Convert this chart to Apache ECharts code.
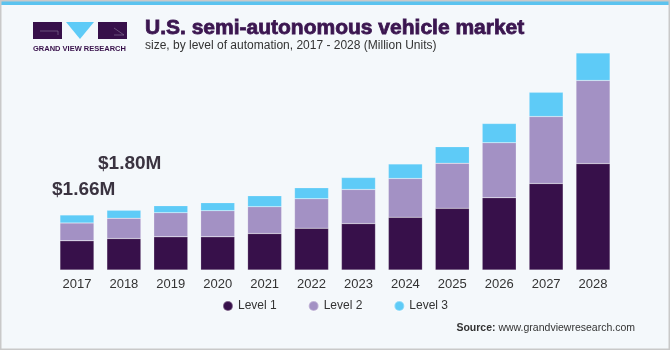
<!DOCTYPE html>
<html>
<head>
<meta charset="utf-8">
<script src="https://cdn.jsdelivr.net/npm/echarts@6/dist/echarts.min.js"></script>
<style>
  html, body { margin: 0; padding: 0; background: #f4f8fb; }
  #chart { width: 670px; height: 350px; }
</style>
</head>
<body>
<div id="chart"></div>
<script>
const years = ['2017', '2018', '2019', '2020', '2021', '2022', '2023', '2024', '2025', '2026', '2027', '2028'];
const level1 = [0.88, 0.95, 1.00, 1.00, 1.10, 1.26, 1.40, 1.59, 1.86, 2.18, 2.61, 3.21];
const level2 = [0.54, 0.61, 0.73, 0.79, 0.81, 0.89, 1.03, 1.17, 1.36, 1.66, 2.02, 2.51];
const level3 = [0.24, 0.24, 0.21, 0.24, 0.33, 0.33, 0.36, 0.44, 0.50, 0.58, 0.73, 0.83];
const callouts = ['$1.66M', '$1.80M'];

const purple = '#37104a';
const lavender = '#a391c4';
const sky = '#5ecbf7';

const chart = echarts.init(document.getElementById('chart'));

function barSeries(name, data, color) {
    return {
        name: name,
        type: 'bar',
        stack: 'total',
        data: data,
        barWidth: 34,
        itemStyle: { color: color, borderColor: 'rgba(255,255,255,0.35)', borderWidth: 0.5 }
    };
}

const option = {
    animation: false,
    backgroundColor: '#f4f8fb',
    textStyle: { fontFamily: 'Liberation Sans, Arial, sans-serif' },
    grid: { left: 53.5, right: 53.5, top: 38, bottom: 80 },
    legend: {
        top: 295,
        left: 'center',
        icon: 'circle',
        itemWidth: 10,
        itemHeight: 10,
        itemGap: 31,
        textStyle: { color: '#333', fontSize: 12 },
        data: ['Level 1', 'Level 2', 'Level 3']
    },
    xAxis: {
        type: 'category',
        data: years,
        axisLine: { show: false },
        axisTick: { show: false },
        axisLabel: { color: '#333', fontSize: 13, margin: 8 }
    },
    yAxis: {
        type: 'value',
        min: 0,
        max: 7,
        show: false,
        splitLine: { show: false }
    },
    series: [
        barSeries('Level 1', level1, purple),
        barSeries('Level 2', level2, lavender),
        barSeries('Level 3', level3, sky)
    ],
    graphic: [
        // frame: top strip and border
        { type: 'rect', shape: { x: 0, y: 0, width: 670, height: 5 }, style: { fill: '#5bc3ef' } },
        { type: 'rect', shape: { x: 0.75, y: 0.75, width: 668.5, height: 348.5 }, style: { fill: 'none', stroke: '#c9c9c9', lineWidth: 1.5 } },
        // logo
        { type: 'rect', shape: { x: 33, y: 22, width: 29, height: 17 }, style: { fill: purple } },
        { type: 'polyline', shape: { points: [[40, 31], [58, 31], [58, 35]] }, style: { stroke: '#8a7a9a', lineWidth: 0.6, fill: 'none' } },
        { type: 'polygon', shape: { points: [[66, 22], [94, 22], [80, 39]] }, style: { fill: sky } },
        { type: 'rect', shape: { x: 98, y: 22, width: 29, height: 17 }, style: { fill: purple } },
        { type: 'polyline', shape: { points: [[114, 28], [124, 35], [114, 35]] }, style: { stroke: '#8a7a9a', lineWidth: 0.6, fill: 'none' } },
        {
            type: 'text', x: 33, y: 45,
            style: { text: 'GRAND VIEW RESEARCH', fill: purple, font: 'bold 7.5px Liberation Sans, Arial, sans-serif' }
        },
        // titles
        {
            type: 'text', x: 145, y: 18,
            style: {
                text: 'U.S. semi-autonomous vehicle market', fill: '#3b1650',
                stroke: '#3b1650', lineWidth: 0.8,
                font: 'bold 21px Liberation Sans, Arial, sans-serif'
            }
        },
        {
            type: 'text', x: 145, y: 40,
            style: { text: 'size, by level of automation, 2017 - 2028 (Million Units)', fill: '#333', font: '12px Liberation Sans, Arial, sans-serif' }
        },
        // callouts
        {
            type: 'text', x: 52, y: 180,
            style: { text: callouts[0], fill: '#3a3340', font: 'bold 19px Liberation Sans, Arial, sans-serif' }
        },
        {
            type: 'text', x: 98, y: 154,
            style: { text: callouts[1], fill: '#3a3340', font: 'bold 19px Liberation Sans, Arial, sans-serif' }
        },
        // source
        {
            type: 'text', x: 635, y: 323,
            style: {
                text: '{b|Source:} www.grandviewresearch.com',
                align: 'right',
                fill: '#333',
                font: '10.5px Liberation Sans, Arial, sans-serif',
                rich: { b: { fontWeight: 'bold', fontSize: 10.5, fill: '#333' } }
            }
        }
    ]
};

chart.setOption(option);
</script>
</body>
</html>
